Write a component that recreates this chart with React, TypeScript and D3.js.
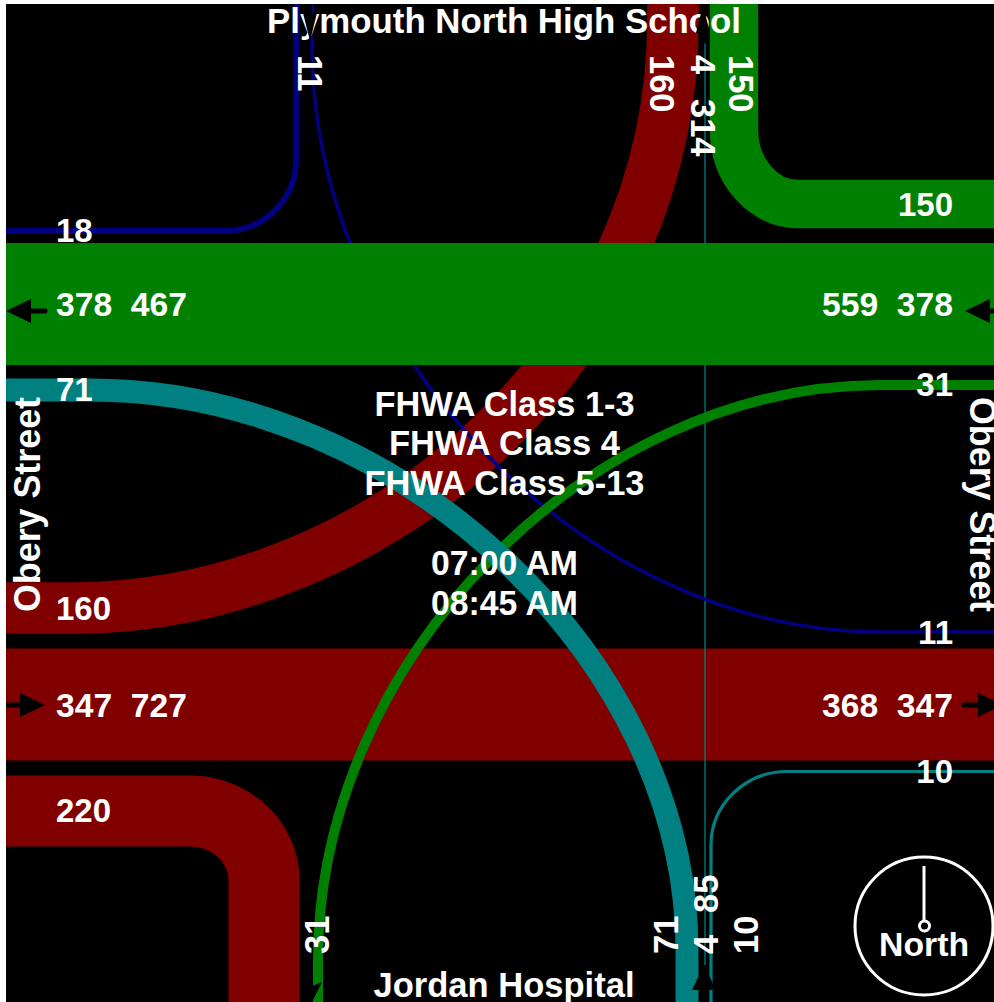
import React from "react";
import * as d3 from "d3";

// ---- Data ----
const throughVolumes = { westExit: 378, westIn: 467, eastIn: 559, eastExit: 378, eastbound: 347, eastbound2: 727, eastOut: 368, eastOut2: 347 };
const turnNames = ["nw18", "n11", "ne150", "nr160", "w71", "sw220", "e31", "se10", "n4"];
const turnVolumes = [18, 11, 150, 160, 71, 220, 31, 10, 4];
const turnColors = ["#000080", "#000080", "#008000", "#800000", "#008080", "#800000", "#008000", "#008080", "#008080"];
const centerLines = ["FHWA Class 1-3", "FHWA Class 4", "FHWA Class 5-13", "07:00 AM", "08:45 AM"];
const horizontalLabels = [
  ["18", "left", 230], ["378  467", "left", 304], ["71", "left", 389], ["160", "left", 608],
  ["347  727", "left", 705], ["220", "left", 810], ["150", "right", 204], ["559  378", "right", 304],
  ["31", "right", 384], ["11", "right", 632], ["368  347", "right", 705], ["10", "right", 771],
] as const;
const topLabels = [["11", 298, 55], ["160", 650, 55], ["4", 691, 55], ["314", 691, 99], ["150", 729, 55]] as const;
const bottomLabels = [["31", 329, 954], ["71", 678, 954], ["4", 718, 954], ["85", 718, 913], ["10", 758, 954]] as const;

const W = 994, H = 1002, X0 = 6, Y0 = 4;
const FONT = "'Liberation Sans', Arial, sans-serif";
const widthScale = d3.scaleLinear().domain([0, 378]).range([0, 122]);
const vol = (n: string) => turnVolumes[turnNames.indexOf(n)];
const col = (n: string) => turnColors[turnNames.indexOf(n)];

// A horizontal-run to vertical-run turn.
function turn(edgeX: number, hx: number, hy: number, vx: number, vy: number, edgeY: number, k = 0.52, kv = k) {
  const p = d3.path();
  p.moveTo(edgeX, hy);
  p.lineTo(hx, hy);
  p.bezierCurveTo(hx + (vx - hx) * k, hy, vx, vy + (hy - vy) * kv, vx, vy);
  p.lineTo(vx, edgeY);
  return p.toString();
}

const bands = [
  { y0: 243, color: "#008000", v: throughVolumes.westExit },
  { y0: 648.5, color: "#800000", v: throughVolumes.eastbound },
];

function Flow({ name, d }: { name: string; d: string }) {
  return <path d={d} fill="none" stroke={col(name)} strokeWidth={widthScale(vol(name))} />;
}

function Arrow({ x, y, angle, narrow = false }: { x: number; y: number; angle: number; narrow?: boolean }) {
  const hw = narrow ? 7 : 12;
  const len = narrow ? 28 : 25;
  const head = d3.line()([[0, 0], [-len, -hw], [-len, hw]]) + "Z";
  return (
    <g transform={`translate(${x},${y}) rotate(${angle})`}>
      <line x1={-len} x2={-39} y1={0} y2={0} stroke="#000" strokeWidth={narrow ? 3 : 5} strokeLinecap="round" />
      <path d={head} fill="#000" />
    </g>
  );
}

export default function App() {
  const t: React.CSSProperties = { whiteSpace: "pre" };
  const text = { fill: "#fff", fontFamily: FONT, fontWeight: 700, fontSize: 33, style: t };
  const fit = (n: number, size = 34.5) => ({ textLength: n, lengthAdjust: "spacingAndGlyphs" as const, fontSize: size });
  const rightEnd = 953, leftStart = 56;
  const centerBase = [416, 455, 495, 575, 615];
  const centerLen = [260, 231, 280, 147, 147];
  return (
    <svg width={W} height={H} viewBox={`0 0 ${W} ${H}`} style={{ position: "absolute", left: 0, top: 0, background: "#fff" }}>
      <defs>
        <clipPath id="plot"><rect x={X0} y={Y0} width={W - X0} height={H - Y0} /></clipPath>
      </defs>
      <g clipPath="url(#plot)">
        <rect x={X0} y={Y0} width={W - X0} height={H - Y0} fill="#000" />

        <rect x={0} y={bands[1].y0} width={W} height={widthScale(bands[1].v)} fill={bands[1].color} />
        <Flow name="nr160" d={turn(0, 72, 608, 673, 20, 0, 0.52, 0.56)} />
        <Flow name="sw220" d={turn(0, 190, 811, 264, 880, H, 0.55)} />
        <Flow name="n4" d={d3.line()([[705, 43], [705, 965]]) as string} />
        <Flow name="nw18" d={turn(0, 225, 231, 296, 160, 0, 0.55)} />
        <Flow name="n11" d={turn(W, 880, 632, 312, 45, 0)} />
        <Flow name="e31" d={turn(W, 880, 385, 318, 960, H)} />
        <Flow name="w71" d={turn(0, 90, 390, 687, 950, H)} />
        <Flow name="se10" d={turn(W, 787, 771.5, 711, 845, H, 0.55)} />
        <rect x={0} y={bands[0].y0} width={W} height={widthScale(bands[0].v)} fill={bands[0].color} />
        <Flow name="ne150" d={turn(W, 798, 204, 734, 130, 0, 0.55)} />

        {horizontalLabels.map(([s, side, cy], i) => (
          <text key={i} x={side === "left" ? leftStart : rightEnd} y={cy + 12} textAnchor={side === "left" ? "start" : "end"}
            {...text} {...(s.length > 4 ? fit(131, 33) : {})}>{s}</text>
        ))}
        {topLabels.map(([s, x, y], i) => (
          <text key={i} transform={`translate(${x},${y}) rotate(90)`} {...text} fontSize={34.5}>{s}</text>
        ))}
        {bottomLabels.map(([s, x, y], i) => (
          <text key={i} transform={`translate(${x},${y}) rotate(-90)`} {...text} fontSize={34.5}>{s}</text>
        ))}

        <text transform="translate(40,612) rotate(-90)" {...text} {...fit(215, 36.5)}>Obery Street</text>
        <text transform="translate(970,397) rotate(90)" {...text} {...fit(215, 36.5)}>Obery Street</text>
        <text x={504} y={33} textAnchor="middle" {...text} {...fit(474)}>Plymouth North High School</text>
        <text x={504} y={997} textAnchor="middle" {...text} {...fit(261)}>Jordan Hospital</text>
        {centerLines.map((s, i) => (
          <text key={i} x={504.5} y={centerBase[i]} textAnchor="middle" {...text} {...fit(centerLen[i])}>{s}</text>
        ))}

        <Arrow x={6} y={311} angle={180} />
        <Arrow x={965} y={311} angle={180} />
        <Arrow x={45} y={705} angle={0} />
        <Arrow x={1003} y={705} angle={0} />
        <Arrow x={703} y={5} angle={-90} narrow />
        <Arrow x={310} y={41} angle={90} narrow />
        <Arrow x={704} y={965} angle={-90} />
        <path d={d3.line()([[310, 987], [322, 982], [319, 988], [312, 1002], [305, 1002], [305, 989]]) + "Z"} fill="#000" />

        <circle cx={924} cy={926} r={69} fill="none" stroke="#fff" strokeWidth={3} />
        <line x1={924} x2={924} y1={866} y2={921} stroke="#fff" strokeWidth={3} />
        <circle cx={924.5} cy={926} r={5} fill="none" stroke="#fff" strokeWidth={3} />
        <text x={924} y={956} textAnchor="middle" {...text} {...fit(90, 33.5)}>North</text>
      </g>
    </svg>
  );
}
